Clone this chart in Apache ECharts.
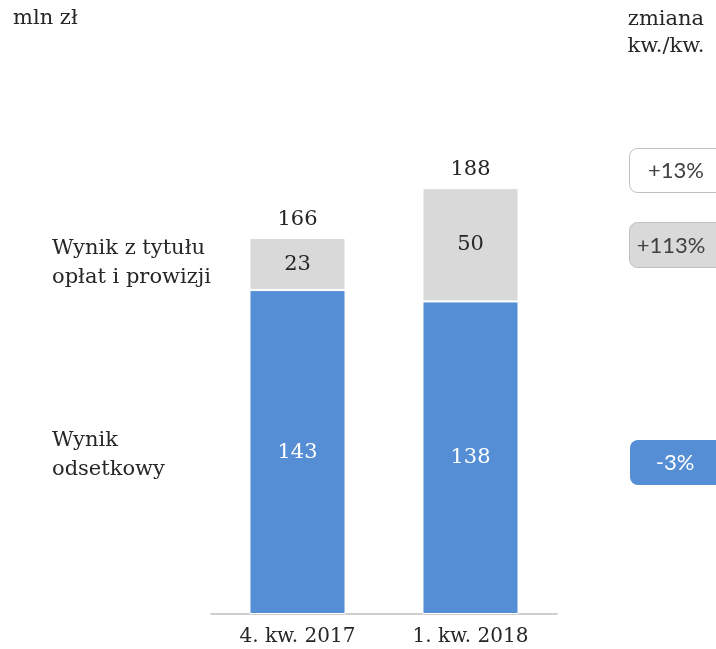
<!DOCTYPE html>
<html><head><meta charset="utf-8">
<script src="https://cdn.jsdelivr.net/npm/echarts@6/dist/echarts.min.js"></script>
<style>html,body{margin:0;padding:0;background:#fff}#c{width:716px;height:649px}</style>
</head><body><div id="c"></div>
<script>
const categories = ['4. kw. 2017', '1. kw. 2018'];
const interestIncome = [143, 138];
const feeIncome = [23, 50];
const totals = [166, 188];
const changes = ['+13%', '+113%', '-3%'];
const seriesNames = ['Wynik odsetkowy', 'Wynik z tytułu opłat i prowizji'];

const SERIF = '"DejaVu Serif", serif';
const SANS = 'Lato, "Liberation Sans", sans-serif';
const BLUE = '#558ED5', GRAY = '#D9D9D9', TXT = '#262626';
const FS = 21;

const chart = echarts.init(document.getElementById('c'));
chart.setOption({
  animation: false,
  grid: { left: 211, width: 346, top: 161, bottom: 35 },
  xAxis: {
    type: 'category', data: categories,
    axisLine: { lineStyle: { color: '#BFBFBF', width: 1.5 } },
    axisTick: { show: false },
    axisLabel: { fontFamily: SERIF, fontSize: 20, color: TXT, margin: 13 }
  },
  yAxis: { type: 'value', min: 0, max: 200, show: false, splitLine: { show: false } },
  series: [
    { name: seriesNames[0], type: 'bar', stack: 's', barWidth: '55.5%', data: interestIncome,
      itemStyle: { color: BLUE, borderColor: '#fff', borderWidth: 1 },
      label: { show: true, position: 'inside', color: '#fff', fontFamily: SERIF, fontSize: FS } },
    { name: seriesNames[1], type: 'bar', stack: 's', barWidth: '55.5%', data: feeIncome,
      itemStyle: { color: GRAY, borderColor: '#fff', borderWidth: 1 },
      label: { show: true, position: 'inside', color: TXT, fontFamily: SERIF, fontSize: FS } },
    { name: 'total', type: 'bar', barWidth: '55.5%', barGap: '-100%', data: totals, z: 0,
      itemStyle: { color: 'rgba(0,0,0,0)' },
      label: { show: true, position: 'top', distance: 8, color: TXT, fontFamily: SERIF, fontSize: FS } }
  ],
  graphic: [
    { type: 'text', left: 13, top: 8, style: { text: 'mln zł', font: FS + 'px ' + SERIF, fill: TXT } },
    { type: 'text', x: 666, y: 6, style: { text: 'zmiana\nkw./kw.', font: FS + 'px ' + SERIF, fill: TXT, align: 'center', lineHeight: 27 } },
    { type: 'text', left: 52, top: 234, style: { text: 'Wynik z tytułu\nopłat i prowizji', font: FS + 'px ' + SERIF, fill: TXT, lineHeight: 29 } },
    { type: 'text', left: 52, top: 426, style: { text: 'Wynik\nodsetkowy', font: FS + 'px ' + SERIF, fill: TXT, lineHeight: 29 } },
    { type: 'rect', shape: { x: 629.5, y: 148.5, width: 110, height: 44, r: 8 }, style: { fill: '#fff', stroke: '#BFBFBF', lineWidth: 1 } },
    { type: 'text', x: 676, y: 171, style: { text: changes[0], font: '22px ' + SANS, fill: '#404040', align: 'center', verticalAlign: 'middle' } },
    { type: 'rect', shape: { x: 629.5, y: 222.5, width: 110, height: 45, r: 8 }, style: { fill: GRAY, stroke: '#BFBFBF', lineWidth: 1 } },
    { type: 'text', x: 671, y: 246, style: { text: changes[1], font: '22px ' + SANS, fill: '#404040', align: 'center', verticalAlign: 'middle' } },
    { type: 'rect', shape: { x: 630, y: 440, width: 110, height: 45, r: 8 }, style: { fill: BLUE } },
    { type: 'text', x: 675, y: 463, style: { text: changes[2], font: '22px ' + SANS, fill: '#fff', align: 'center', verticalAlign: 'middle' } }
  ]
});
</script></body></html>
